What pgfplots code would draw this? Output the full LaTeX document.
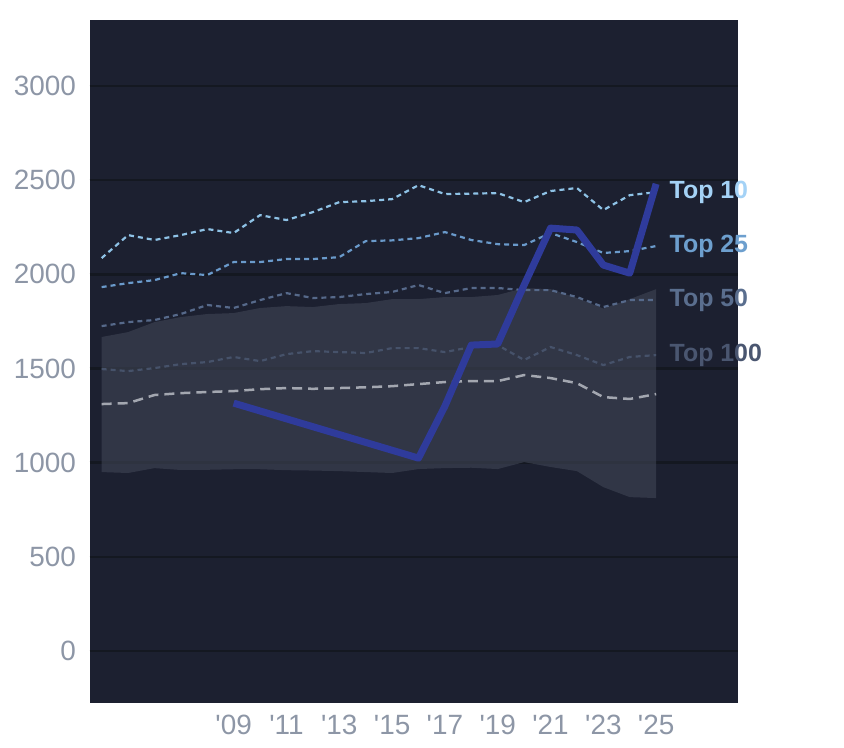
\documentclass[border=0pt]{standalone}
\usepackage{pgfplots}
\pgfplotsset{compat=1.18}
\usepackage{pgfplotstable}
\usepackage{fontspec}
\setmainfont{Liberation Sans}
\definecolor{bgc}{HTML}{1C2030}
\definecolor{gridc}{HTML}{141821}
\definecolor{bandc}{HTML}{404556}
\definecolor{topten}{HTML}{8EC2E6}
\definecolor{toptenl}{HTML}{A4D2F6}
\definecolor{toptwf}{HTML}{6A9ACB}
\definecolor{toptwfl}{HTML}{6D9FCE}
\definecolor{topfif}{HTML}{56698A}
\definecolor{topfifl}{HTML}{5A6E8E}
\definecolor{tophun}{HTML}{46526A}
\definecolor{tophunl}{HTML}{4A5670}
\definecolor{grayc}{HTML}{A3A7B0}
\definecolor{bluec}{HTML}{2F3B9B}
\definecolor{tickc}{HTML}{8D96A6}

\pgfplotstableread{
year top10 top25 top50 top100 mid
2004 2086 1932 1725 1497 1311
2005 2208 1953 1746 1486 1316
2006 2182 1969 1757 1502 1359
2007 2208 2006 1789 1523 1369
2008 2240 1996 1837 1534 1375
2009 2219 2065 1821 1561 1380
2010 2314 2065 1863 1539 1390
2011 2288 2081 1900 1576 1396
2012 2330 2081 1874 1592 1392
2013 2383 2091 1879 1587 1396
2014 2388 2176 1895 1582 1400
2015 2399 2180 1906 1608 1406
2016 2473 2192 1943 1608 1417
2017 2426 2224 1900 1587 1428
2018 2428 2182 1927 1614 1433
2019 2431 2160 1927 1624 1433
2020 2383 2155 1916 1545 1465
2021 2442 2219 1916 1614 1449
2022 2458 2171 1879 1571 1422
2023 2341 2113 1826 1518 1348
2024 2420 2123 1863 1561 1338
2025 2436 2150 1863 1571 1364
}\ranks

% band: upper edge 2004->2025, then lower edge 2025->2004
\pgfplotstableread{
year val
2004 1667
2005 1693
2006 1746
2007 1773
2008 1789
2009 1794
2010 1821
2011 1831
2012 1826
2013 1842
2014 1847
2015 1868
2016 1868
2017 1879
2018 1879
2019 1890
2020 1927
2021 1921
2022 1874
2023 1818
2024 1868
2025 1921
2025 812
2024 817
2023 870
2022 955
2021 977
2020 1003
2019 966
2018 973
2017 971
2016 966
2015 945
2014 950
2013 955
2012 958
2011 960
2010 965
2009 965
2008 962
2007 961
2006 971
2005 945
2004 950
}\band

\pgfplotstableread{
year val
2009 1316
2016 1024
2017 1300
2018 1624
2019 1630
2020 1943
2021 2245
2022 2235
2023 2049
2024 2006
2025 2480
}\blue

\begin{document}
\begin{tikzpicture}
\path (0,0) rectangle (844bp,748bp);
\begin{axis}[
  at={(89.5bp,45bp)}, anchor=south west,
  scale only axis, width=648.5bp, height=683bp,
  xmin=2003.54, xmax=2028.1,
  ymin=-276, ymax=3350,
  axis background/.style={fill=bgc},
  axis line style={draw=none},
  major tick length=0pt,
  ytick={0,500,...,3000},
  xtick={2009,2011,...,2025},
  xticklabels={\textquotesingle 09,\textquotesingle 11,\textquotesingle 13,\textquotesingle 15,\textquotesingle 17,\textquotesingle 19,\textquotesingle 21,\textquotesingle 23,\textquotesingle 25},
  /pgf/number format/assume math mode=true,
  /pgf/number format/1000 sep={},
  tick label style={font=\fontsize{28}{30}\selectfont, text=tickc},
  yticklabel style={xshift=-10bp},
  xticklabel style={yshift=-9bp},
  ymajorgrids,
  grid style={draw=gridc, line width=2.5bp},
]
\addplot[fill=bandc, fill opacity=0.6, draw=none] table[x=year,y=val] {\band} -- cycle;

\addplot[grayc, line width=2.5bp, dash pattern=on 10bp off 6bp] table[x=year,y=mid] {\ranks};
\addplot[tophun, line width=2.2bp, dash pattern=on 5bp off 4bp] table[x=year,y=top100] {\ranks};
\addplot[topfif, line width=2.2bp, dash pattern=on 5bp off 4bp] table[x=year,y=top50] {\ranks};
\addplot[toptwf, line width=2.2bp, dash pattern=on 5bp off 4bp] table[x=year,y=top25] {\ranks};
\addplot[topten, line width=2.2bp, dash pattern=on 5bp off 4bp] table[x=year,y=top10] {\ranks};

\addplot[bluec, line width=7bp, line join=round] table[x=year,y=val] {\blue};
\end{axis}
\begin{axis}[
  at={(89.5bp,45bp)}, anchor=south west,
  scale only axis, width=648.5bp, height=683bp,
  xmin=2003.54, xmax=2028.1,
  ymin=-276, ymax=3350,
  hide axis, clip=false,
]
\addplot[draw=none] coordinates {(2025,2436)} node[pos=1, anchor=west, xshift=10bp, text=toptenl, font=\fontsize{25}{27}\bfseries\selectfont] {Top 10};
\addplot[draw=none] coordinates {(2025,2150)} node[pos=1, anchor=west, xshift=10bp, text=toptwfl, font=\fontsize{25}{27}\bfseries\selectfont] {Top 25};
\addplot[draw=none] coordinates {(2025,1863)} node[pos=1, anchor=west, xshift=10bp, text=topfifl, font=\fontsize{25}{27}\bfseries\selectfont] {Top 50};
\addplot[draw=none] coordinates {(2025,1571)} node[pos=1, anchor=west, xshift=10bp, text=tophunl, font=\fontsize{25}{27}\bfseries\selectfont] {Top 100};
\end{axis}
\end{tikzpicture}
\end{document}
